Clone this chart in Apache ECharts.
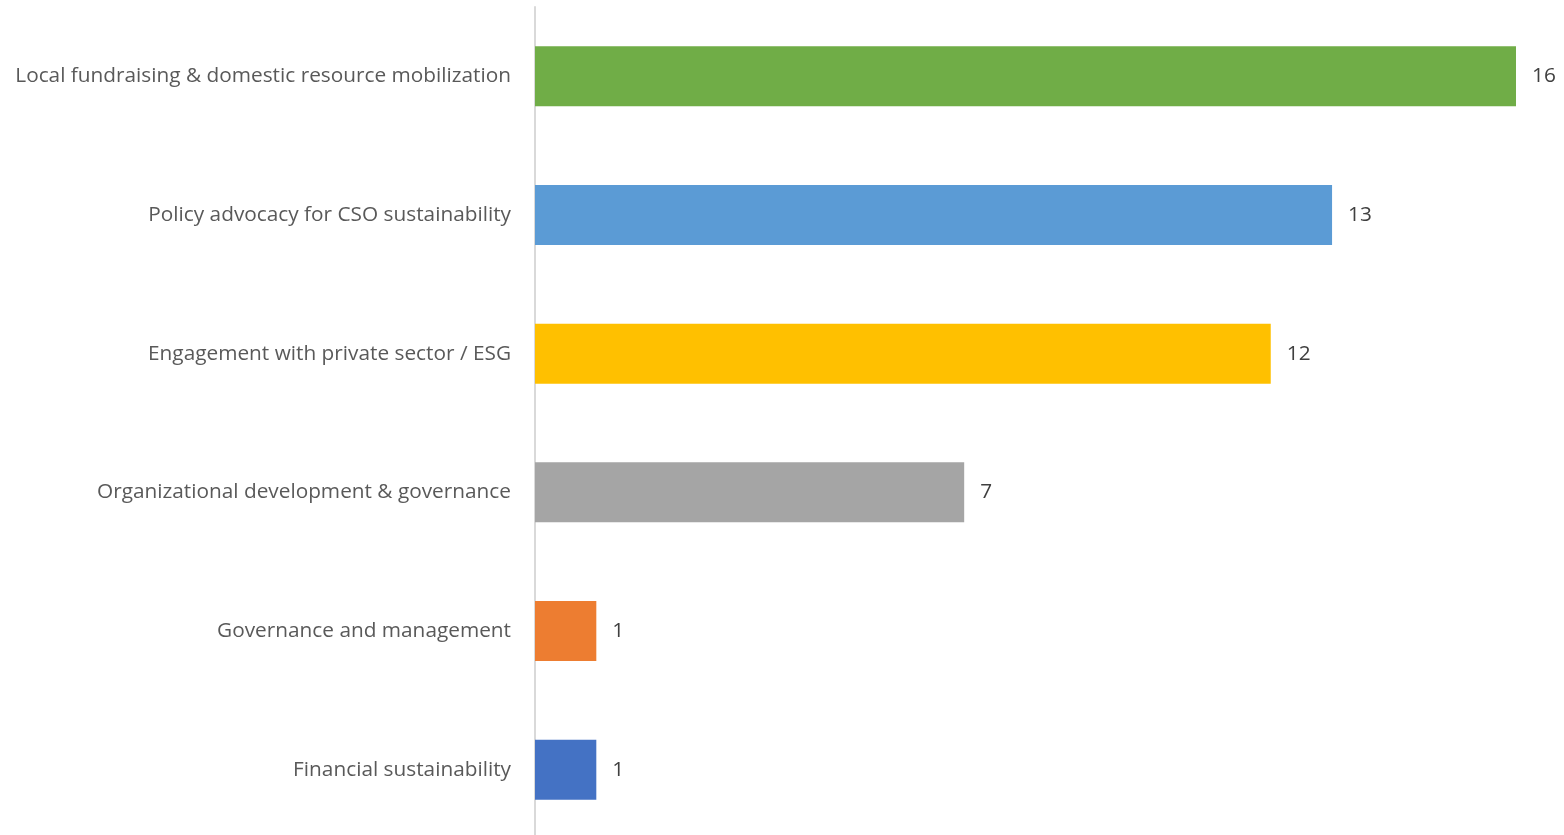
<!DOCTYPE html>
<html>
<head>
<meta charset="utf-8">
<script src="https://cdn.jsdelivr.net/npm/echarts@6/dist/echarts.min.js"></script>
<style>
  html, body { margin: 0; padding: 0; background: #ffffff; overflow: hidden; }
  #chart { width: 1564px; height: 845px; }
</style>
</head>
<body>
<div id="chart"></div>
<script>
// Categories listed bottom to top (ECharts category axis on y starts at the bottom)
const categories = [
  'Financial sustainability',
  'Governance and management',
  'Organizational development & governance',
  'Engagement with private sector / ESG',
  'Policy advocacy for CSO sustainability',
  'Local fundraising & domestic resource mobilization'
];
const values = [1, 1, 7, 12, 13, 16];
const barColors = ['#4472C4', '#ED7D31', '#A5A5A5', '#FFC000', '#5B9BD5', '#70AD47'];

const chart = echarts.init(document.getElementById('chart'), null, { renderer: 'canvas' });

const fontFamily = '"Open Sans", "Noto Sans", sans-serif';

// The plot area runs slightly past the bottom edge of the visible page
chart.setOption({
  animation: false,
  backgroundColor: '#ffffff',
  grid: { left: 535, right: 48, top: 7, height: 832, containLabel: false },
  xAxis: {
    type: 'value',
    min: 0,
    max: 16,
    show: false
  },
  yAxis: {
    type: 'category',
    data: categories,
    axisLine: { show: true, lineStyle: { color: '#D9D9D9', width: 2 } },
    axisTick: { show: false },
    axisLabel: {
      color: '#595959',
      fontSize: 20.8,
      fontFamily: fontFamily,
      margin: 24
    }
  },
  series: [{
    type: 'bar',
    data: values.map((v, i) => ({ value: v, itemStyle: { color: barColors[i] } })),
    barWidth: 60,
    label: {
      show: true,
      position: 'right',
      distance: 16,
      color: '#404040',
      fontSize: 20.8,
      fontFamily: fontFamily
    }
  }]
});
</script>
</body>
</html>
